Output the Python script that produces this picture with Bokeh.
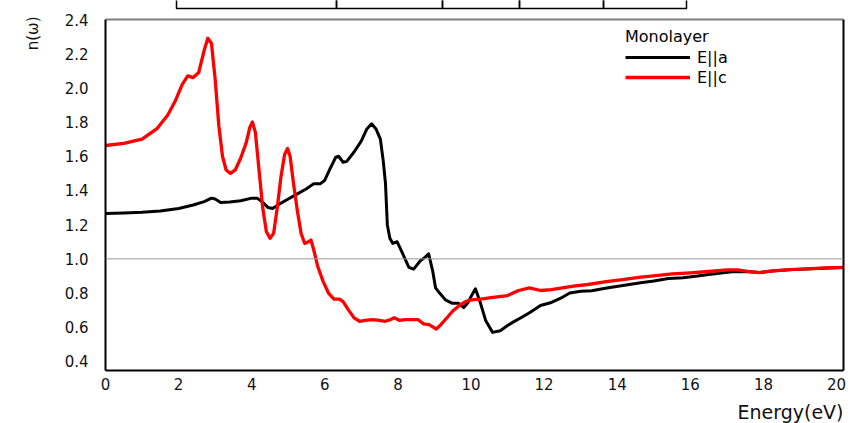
from bokeh.plotting import figure
from bokeh.models import (ColumnDataSource, FixedTicker, Span, Legend, LegendItem,
                          LinearAxis, NumeralTickFormatter, Title, BoxAnnotation)
from bokeh.embed import file_html
from bokeh.resources import INLINE

# Refractive index n(w) of the monolayer, E||a polarisation
energy_a = [0.0, 0.5, 1.0, 1.5, 2.0, 2.4, 2.7, 2.9, 3.0, 3.15, 3.4, 3.7, 4.0, 4.15, 4.3, 4.45,
            4.57, 4.75, 5.0, 5.25, 5.5, 5.7, 5.88, 6.0, 6.15, 6.3, 6.38, 6.5, 6.6, 6.8, 7.0,
            7.15, 7.28, 7.4, 7.52, 7.6, 7.66, 7.71, 7.78, 7.86, 7.98, 8.13, 8.3, 8.43, 8.62,
            8.75, 8.84, 8.95, 9.03, 9.14, 9.3, 9.49, 9.66, 9.8, 9.92, 9.99, 10.12, 10.26, 10.4,
            10.59, 10.8, 11.0, 11.15, 11.4, 11.6, 11.9, 12.2, 12.5, 12.7, 13.0, 13.3, 13.6,
            13.8, 14.2, 14.64, 15.0, 15.4, 15.8, 16.2, 16.5, 16.9, 17.2, 17.6, 17.9, 18.3,
            18.8, 19.3, 19.8, 20.2]
n_a = [1.265, 1.268, 1.272, 1.28, 1.295, 1.315, 1.335, 1.355, 1.35, 1.33, 1.332, 1.34, 1.355,
       1.355, 1.33, 1.30, 1.295, 1.32, 1.35, 1.38, 1.41, 1.44, 1.44, 1.46, 1.53, 1.595, 1.60,
       1.565, 1.57, 1.625, 1.69, 1.76, 1.79, 1.76, 1.70, 1.57, 1.44, 1.20, 1.12, 1.09, 1.10,
       1.03, 0.95, 0.94, 0.99, 1.01, 1.03, 0.93, 0.83, 0.80, 0.76, 0.74, 0.74, 0.715, 0.745,
       0.775, 0.825, 0.74, 0.64, 0.57, 0.58, 0.61, 0.63, 0.66, 0.685, 0.727, 0.745, 0.775,
       0.80, 0.81, 0.813, 0.825, 0.832, 0.845, 0.86, 0.87, 0.885, 0.89, 0.90, 0.908, 0.918,
       0.926, 0.925, 0.92, 0.93, 0.937, 0.942, 0.947, 0.95]

# Refractive index n(w) of the monolayer, E||c polarisation
energy_c = [0.0, 0.5, 1.0, 1.4, 1.7, 1.9, 2.1, 2.25, 2.4, 2.55, 2.7, 2.8, 2.9, 3.0, 3.1, 3.2,
            3.3, 3.42, 3.55, 3.7, 3.85, 3.95, 4.02, 4.1, 4.2, 4.3, 4.4, 4.5, 4.6, 4.7, 4.8,
            4.9, 4.98, 5.05, 5.15, 5.25, 5.35, 5.45, 5.55, 5.62, 5.7, 5.8, 5.95, 6.1, 6.25,
            6.4, 6.5, 6.65, 6.8, 6.95, 7.1, 7.3, 7.5, 7.65, 7.8, 7.9, 8.05, 8.2, 8.4, 8.55,
            8.7, 8.85, 9.05, 9.15, 9.36, 9.5, 9.7, 9.85, 10.0, 10.26, 10.6, 11.0, 11.3, 11.6,
            11.9, 12.2, 12.5, 12.8, 13.2, 13.7, 14.2, 14.64, 15.0, 15.5, 16.0, 16.5, 17.0, 17.3,
            17.6, 17.9, 18.2, 18.7, 19.2, 19.7, 20.2]
n_c = [1.663, 1.675, 1.70, 1.76, 1.84, 1.92, 2.02, 2.07, 2.06, 2.09, 2.22, 2.29, 2.26, 2.05,
       1.78, 1.60, 1.52, 1.50, 1.52, 1.59, 1.68, 1.77, 1.80, 1.74, 1.52, 1.30, 1.16, 1.12,
       1.15, 1.30, 1.48, 1.61, 1.645, 1.60, 1.43, 1.28, 1.15, 1.09, 1.10, 1.11, 1.05, 0.96,
       0.87, 0.80, 0.765, 0.765, 0.75, 0.70, 0.655, 0.635, 0.64, 0.645, 0.64, 0.635, 0.645,
       0.655, 0.64, 0.645, 0.645, 0.645, 0.62, 0.615, 0.59, 0.61, 0.66, 0.695, 0.73, 0.75,
       0.76, 0.765, 0.775, 0.785, 0.815, 0.83, 0.815, 0.82, 0.83, 0.84, 0.85, 0.867, 0.88,
       0.893, 0.90, 0.912, 0.918, 0.926, 0.935, 0.935, 0.925, 0.92, 0.928, 0.937, 0.942,
       0.947, 0.95]

x_ticks = [0, 2, 4, 6, 8, 10, 12, 14, 16, 18, 20]
y_ticks = [0.4, 0.6, 0.8, 1.0, 1.2, 1.4, 1.6, 1.8, 2.0, 2.2, 2.4]
series_names = ["E||a", "E||c"]
legend_title = "Monolayer"
x_title = "Energy(eV)"
y_title = "n(ω)"
reference_n = 1.0

FONT = "DejaVu Sans"
Y_LO, Y_HI = 0.347, 2.40          # extent of the drawn axes
BOX_H = 351                       # height of the plotting box in pixels
PX_PER_N = BOX_H / (Y_HI - Y_LO)
Y_TOP = Y_HI + 19 / PX_PER_N      # frame reaches the top edge of the page

p = figure(frame_width=738, frame_height=370,
           min_border_left=105, min_border_right=13, min_border_top=0, min_border_bottom=53,
           x_range=(0, 20.19), y_range=(Y_LO, Y_TOP),
           output_backend="svg", toolbar_location=None)

p.xgrid.visible = False
p.ygrid.visible = False
p.outline_line_color = None

p.xaxis.ticker = FixedTicker(ticks=x_ticks)
p.yaxis.ticker = FixedTicker(ticks=y_ticks)
p.yaxis.formatter = NumeralTickFormatter(format="0.0")
p.yaxis.bounds = (Y_LO, Y_HI)

for ax in (p.xaxis[0], p.yaxis[0]):
    ax.axis_line_color = "black"
    ax.axis_line_width = 2
    ax.major_tick_in = 0
    ax.major_tick_out = 0
    ax.minor_tick_in = 0
    ax.minor_tick_out = 0
    ax.major_label_text_font = FONT
    ax.major_label_text_font_size = "15px"
    ax.major_label_text_color = "#111111"

p.yaxis.major_label_standoff = 17
p.xaxis.major_label_standoff = 7

# plain right-hand edge of the plotting box
right_axis = LinearAxis(ticker=FixedTicker(ticks=y_ticks), bounds=(Y_LO, Y_HI),
                        axis_line_color="black", axis_line_width=2,
                        major_tick_in=0, major_tick_out=0, minor_tick_in=0, minor_tick_out=0,
                        major_label_text_alpha=0, major_label_text_font_size="1px")
p.add_layout(right_axis, "right")

# grey upper edge of the plotting box
p.hspan(y=[Y_HI], line_color="#808080", line_width=2)

# axis titles, placed outside the frame
p.add_layout(Title(text=y_title, align="right", text_font=FONT, text_font_size="15px",
                   text_font_style="normal", text_color="#111111", standoff=40, offset=16),
             "left")
p.add_layout(Title(text=x_title, align="right", text_font=FONT, text_font_size="19px",
                   text_font_style="normal", text_color="#111111", standoff=13), "below")

# n = 1 reference line
p.add_layout(Span(location=reference_n, dimension="width", line_color="#9a9a9a",
                  line_width=1))

src_a = ColumnDataSource(dict(x=energy_a, y=n_a))
src_c = ColumnDataSource(dict(x=energy_c, y=n_c))
r_a = p.line("x", "y", source=src_a, line_color="black", line_width=3, line_join="round")
r_c = p.line("x", "y", source=src_c, line_color="#ff0000", line_width=3.3, line_join="round")

legend = Legend(items=[LegendItem(label=series_names[0], renderers=[r_a]),
                       LegendItem(label=series_names[1], renderers=[r_c])],
                title=legend_title, location=(520, 283),
                title_text_font=FONT, title_text_font_size="16px",
                title_text_font_style="normal", title_text_color="black",
                title_standoff=1,
                label_text_font=FONT, label_text_font_size="16px", label_text_color="black",
                glyph_width=65, glyph_height=20, label_height=20, label_standoff=7,
                spacing=0, padding=0, margin=0,
                border_line_color=None, background_fill_alpha=0)
p.add_layout(legend, "center")

# ruled cells running off the top edge (frame-relative pixels)
for left, right in [(71, 231), (231, 337), (337, 414), (414, 498), (498, 581)]:
    p.add_layout(BoxAnnotation(left=left, right=right, top=385, bottom=362,
                               left_units="screen", right_units="screen",
                               top_units="screen", bottom_units="screen",
                               fill_alpha=0, line_color="black", line_alpha=1,
                               line_width=1.5))

open("out.html", "w").write(file_html(p, INLINE))
